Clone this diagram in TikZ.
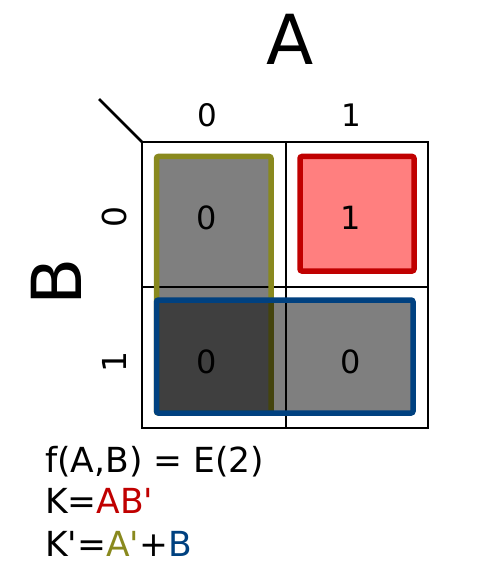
\documentclass[tikz,border=0pt]{standalone}
\usepackage{fontspec}
\setmainfont{DejaVu Sans}[Ligatures=TeXOff]
\definecolor{kolive}{RGB}{137,137,30}
\definecolor{kred}{RGB}{192,0,0}
\definecolor{kblue}{RGB}{0,65,128}
\begin{document}
\begin{tikzpicture}[x=1pt,y=-1pt,
  gridline/.style={draw=black,line width=2.6pt},
  group/.style={line width=5.5pt,rounded corners=2pt},
  lbl/.style={inner sep=0pt,font=\fontsize{31}{31}\selectfont},
  rlbl/.style={inner sep=0pt,rotate=90,font=\fontsize{33}{33}\selectfont},
  cell/.style={inner sep=0pt,font=\fontsize{32}{32}\selectfont},
  big/.style={inner sep=0pt,font=\fontsize{69}{69}\selectfont},
  eq/.style={inner sep=0pt,anchor=base west,font=\fontsize{34.5}{34.5}\selectfont}]
\useasboundingbox (0,0) rectangle (500,572);
% grid
\coordinate (tl) at (142,142);
\coordinate (br) at (428,428);
\coordinate (diag) at (99,99);
\draw[gridline] (tl) rectangle (br);
\draw[gridline] (286,142) -- (286,428);
\draw[gridline] (142,287) -- (428,287);
\draw[gridline] (diag) -- (tl);
% groups
\draw[group,draw=kolive,fill=black,fill opacity=0.5,draw opacity=1] (156.5,156.5) rectangle (271,413);
\draw[group,draw=kblue,fill=black,fill opacity=0.5,draw opacity=1] (156.5,300) rectangle (413,413);
\draw[group,draw=kred,fill=red,fill opacity=0.5,draw opacity=1] (300,156.5) rectangle (414,271);
% labels
\node[big] (A) at (290,39) {A};
\node[big,rotate=90] (B) at (56,282) {B};
\node[lbl] (c0) at (207,115) {0};
\node[lbl] (c1) at (351,115) {1};
\node[rlbl] (r0) at (114,217) {0};
\node[rlbl] (r1) at (114,362) {1};
\node[cell] (v00) at (207,218) {0};
\node[cell] (v01) at (351,218) {1};
\node[cell] (v10) at (207,362) {0};
\node[cell] (v11) at (351,362) {0};
\node[eq] (e1) at (45,472) {f(A,B) = E(2)};
\node[eq] (e2) at (45,513) {K=\textcolor{kred}{AB'}};
\node[eq] (e3) at (45,556) {K'=\textcolor{kolive}{A'}+\textcolor{kblue}{B}};
\end{tikzpicture}
\end{document}
